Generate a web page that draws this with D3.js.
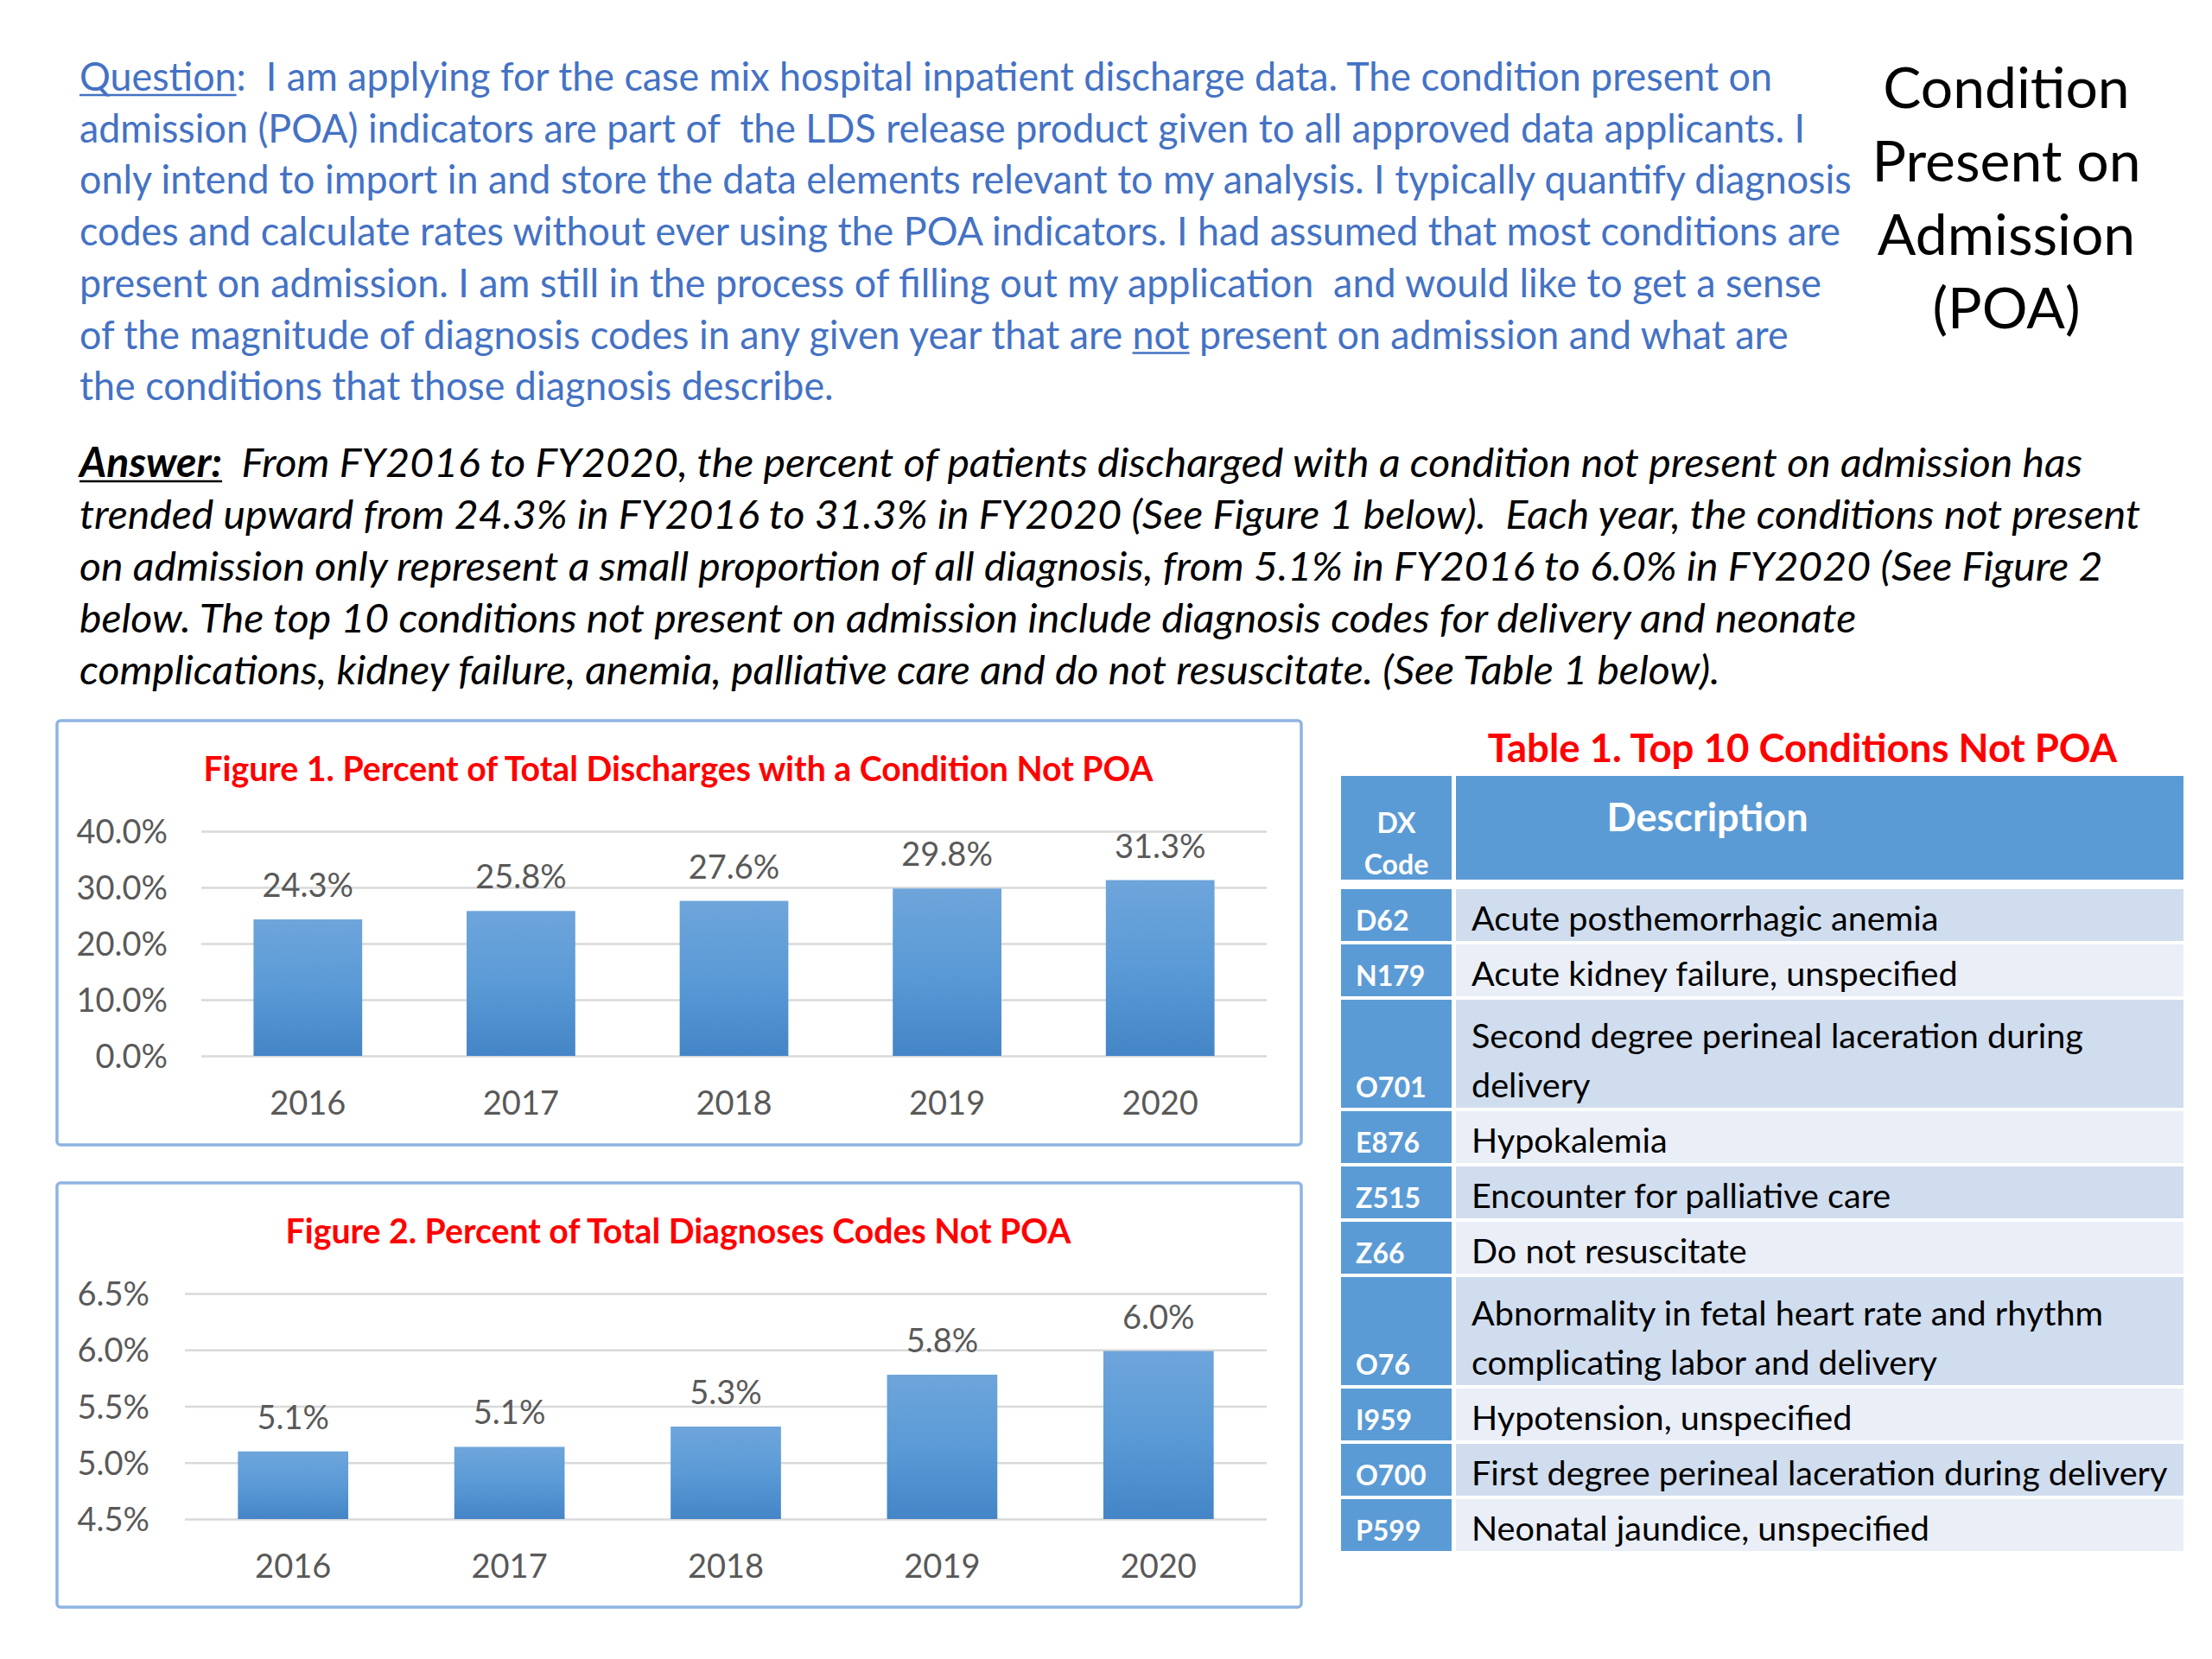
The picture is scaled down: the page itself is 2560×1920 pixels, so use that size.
<!DOCTYPE html>
<html>
<head>
<meta charset="utf-8">
<script src="https://cdn.jsdelivr.net/npm/d3@7"></script>
<style>
  body { margin: 0; background: #fff; }
  svg text { font-family: Lato, "Open Sans", sans-serif; white-space: pre; }
</style>
</head>
<body>
<svg id="slide" width="2560" height="1920"></svg>
<script>
// Slide text (underscores mark underlined words)
const questionLines = [
    "_Question_:  I am applying for the case mix hospital inpatient discharge data. The condition present on",
    "admission (POA) indicators are part of  the LDS release product given to all approved data applicants. I",
    "only intend to import in and store the data elements relevant to my analysis. I typically quantify diagnosis",
    "codes and calculate rates without ever using the POA indicators. I had assumed that most conditions are",
    "present on admission. I am still in the process of filling out my application  and would like to get a sense",
    "of the magnitude of diagnosis codes in any given year that are _not_ present on admission and what are",
    "the conditions that those diagnosis describe."
];
const answerLines = [
    "_Answer:_  From FY2016 to FY2020, the percent of patients discharged with a condition not present on admission has",
    "trended upward from 24.3% in FY2016 to 31.3% in FY2020 (See Figure 1 below).  Each year, the conditions not present",
    "on admission only represent a small proportion of all diagnosis, from 5.1% in FY2016 to 6.0% in FY2020 (See Figure 2",
    "below. The top 10 conditions not present on admission include diagnosis codes for delivery and neonate",
    "complications, kidney failure, anemia, palliative care and do not resuscitate. (See Table 1 below)."
];
const titleLines = ["Condition", "Present on", "Admission", "(POA)"];

// Figure data
const years = ["2016", "2017", "2018", "2019", "2020"];
const dischargeNotPoa = [24.3, 25.8, 27.6, 29.8, 31.3];
const dischargeTicks = [0, 10, 20, 30, 40];
const diagnosisNotPoa = [5.1, 5.14, 5.32, 5.78, 5.99];
const diagnosisTicks = [4.5, 5.0, 5.5, 6.0, 6.5];

// Table data
const dxCodes = ["D62", "N179", "O701", "E876", "Z515", "Z66", "O76", "I959", "O700", "P599"];
const dxDescriptions = [
    "Acute posthemorrhagic anemia",
    "Acute kidney failure, unspecified",
    "Second degree perineal laceration during\ndelivery",
    "Hypokalemia",
    "Encounter for palliative care",
    "Do not resuscitate",
    "Abnormality in fetal heart rate and rhythm\ncomplicating labor and delivery",
    "Hypotension, unspecified",
    "First degree perineal laceration during delivery",
    "Neonatal jaundice, unspecified"
];

const svg = d3.select("#slide");
const pct = d => d3.format(".1f")(d) + "%";
const GRAY = "#595959";

// Lato is not the Calibri of the original, so stretch/squeeze text to its width
function squeeze(t, k) {
    const w = t.node().getComputedTextLength();
    t.attr("textLength", w * k).attr("lengthAdjust", "spacingAndGlyphs");
    return w * k;
}

/**
 * Hard-wrapped paragraph. Plain runs are one <text> each with underlines drawn
 * as lines; bold marked runs (e.g. "Answer:") get their own <text>.
 */
function drawParagraph(lines, opts) {
    const g = svg.append("g");
    const k = opts.squeeze;
    lines.forEach((line, i) => {
        const y = opts.y + i * opts.lineH;
        let cursor = opts.x;
        let run = "";
        let marks = [];

        const newText = (x, str, bold) => g.append("text")
            .attr("x", x)
            .attr("y", y)
            .attr("fill", opts.color)
            .attr("font-size", opts.size)
            .attr("font-style", opts.italic ? "italic" : null)
            .attr("font-weight", bold ? 700 : null)
            .text(str);

        const underline = (x0, w) => g.append("line")
            .attr("x1", x0).attr("x2", x0 + w)
            .attr("y1", y + 5).attr("y2", y + 5)
            .attr("stroke", opts.color)
            .attr("stroke-width", 2.6);

        const flush = () => {
            if (!run) return;
            const t = newText(cursor, run, false);
            const node = t.node();
            marks.forEach(([s, n]) => {
                const off = s > 0 ? node.getSubStringLength(0, s) : 0;
                underline(cursor + off * k, node.getSubStringLength(s, n) * k);
            });
            cursor += squeeze(t, k);
            run = "";
            marks = [];
        };

        line.split("_").forEach((part, j) => {
            if (!part) return;
            const marked = j % 2 === 1;
            if (marked && opts.boldMarked) {
                flush();
                const t = newText(cursor, part, true);
                const w = squeeze(t, k);
                underline(cursor, w);
                cursor += w;
                return;
            }
            if (marked) marks.push([run.length, part.length]);
            run += part;
        });
        flush();
    });
}

drawParagraph(questionLines, { x: 92, y: 105, lineH: 59.7, size: 46, color: "#4472C4", squeeze: 0.974 });
drawParagraph(answerLines, { x: 92, y: 552, lineH: 60, size: 47, color: "#000", italic: true, boldMarked: true, squeeze: 1.025 });

svg.append("g").selectAll("text")
    .data(titleLines)
    .join("text")
    .attr("x", 2322)
    .attr("y", (d, i) => 125 + i * 85)
    .attr("text-anchor", "middle")
    .attr("font-size", 66)
    .attr("fill", "#000")
    .text(d => d);

// bar gradient
const grad = svg.append("defs").append("linearGradient")
    .attr("id", "barGrad").attr("x1", 0).attr("y1", 0).attr("x2", 0).attr("y2", 1);
grad.append("stop").attr("offset", "0%").attr("stop-color", "#6EA5DB");
grad.append("stop").attr("offset", "50%").attr("stop-color", "#5A9AD6");
grad.append("stop").attr("offset", "100%").attr("stop-color", "#4485C7");

/**
 * Framed column chart with a red title.
 */
function drawBarChart(cfg) {
    const g = svg.append("g");
    const [bx0, by0, bx1, by1] = cfg.box;

    g.append("rect")
        .attr("x", bx0).attr("y", by0)
        .attr("width", bx1 - bx0).attr("height", by1 - by0)
        .attr("rx", 4)
        .attr("fill", "#fff")
        .attr("stroke", "#8EB4E3")
        .attr("stroke-width", 3.5);

    const title = g.append("text")
        .attr("x", 785)
        .attr("y", cfg.titleY)
        .attr("text-anchor", "middle")
        .attr("font-size", 40)
        .attr("font-weight", 700)
        .attr("fill", "#FF0000")
        .text(cfg.title);
    squeeze(title, 0.98);

    const x = d3.scaleBand().domain(years).range(cfg.xRange).paddingInner(0.49).paddingOuter(0.245);
    const y = d3.scaleLinear().domain(cfg.domain).range(cfg.yRange);

    const yAxis = g.append("g")
        .attr("transform", `translate(${cfg.xRange[0]},0)`)
        .call(d3.axisLeft(y)
            .tickValues(cfg.ticks)
            .tickSize(-(cfg.xRange[1] - cfg.xRange[0]))
            .tickPadding(cfg.labelGap)
            .tickFormat(pct));
    yAxis.select(".domain").remove();
    yAxis.selectAll(".tick line").attr("stroke", "#D9D9D9").attr("stroke-width", 2.5);
    yAxis.selectAll(".tick text")
        .attr("font-size", 38).attr("fill", GRAY).attr("font-family", null).attr("dy", "0.36em");

    const xAxis = g.append("g")
        .attr("transform", `translate(0,${cfg.yRange[0]})`)
        .call(d3.axisBottom(x).tickSize(0).tickPadding(41));
    xAxis.select(".domain").remove();
    xAxis.selectAll(".tick text").attr("font-size", 38).attr("fill", GRAY).attr("font-family", null);

    g.selectAll(".bar")
        .data(cfg.values)
        .join("rect")
        .attr("class", "bar")
        .attr("x", (d, i) => x(years[i]))
        .attr("y", d => y(d))
        .attr("width", x.bandwidth())
        .attr("height", d => y(cfg.domain[0]) - y(d))
        .attr("fill", "url(#barGrad)");

    g.selectAll(".val")
        .data(cfg.values)
        .join("text")
        .attr("class", "val")
        .attr("x", (d, i) => x(years[i]) + x.bandwidth() / 2)
        .attr("y", d => y(d) - 26)
        .attr("text-anchor", "middle")
        .attr("font-size", 38)
        .attr("fill", GRAY)
        .text(pct);
}

drawBarChart({
    box: [66, 834, 1506, 1325],
    title: "Figure 1. Percent of Total Discharges with a Condition Not POA",
    titleY: 904,
    values: dischargeNotPoa,
    ticks: dischargeTicks,
    domain: [0, 40],
    xRange: [233, 1466],
    yRange: [1222, 962],
    labelGap: 39
});

drawBarChart({
    box: [66, 1369, 1506, 1860],
    title: "Figure 2. Percent of Total Diagnoses Codes Not POA",
    titleY: 1439,
    values: diagnosisNotPoa,
    ticks: diagnosisTicks,
    domain: [4.5, 6.5],
    xRange: [214, 1466],
    yRange: [1758, 1497],
    labelGap: 41
});

/**
 * Table 1: code column + description column, banded rows.
 */
function drawTable() {
    const codeX = 1552, codeW = 128, descX = 1685, descW = 842;
    const BLUE = "#5B9BD5";
    const g = svg.append("g");

    const title = g.append("text")
        .attr("x", 2086).attr("y", 882)
        .attr("text-anchor", "middle")
        .attr("font-size", 46)
        .attr("font-weight", 700)
        .attr("fill", "#FF0000")
        .text("Table 1. Top 10 Conditions Not POA");
    squeeze(title, 0.99);

    // header
    g.append("rect").attr("x", codeX).attr("y", 898).attr("width", codeW).attr("height", 120).attr("fill", BLUE);
    g.append("rect").attr("x", descX).attr("y", 898).attr("width", descW).attr("height", 120).attr("fill", BLUE);
    g.append("text").attr("x", codeX + codeW / 2).attr("y", 964).attr("text-anchor", "middle")
        .attr("font-size", 32).attr("font-weight", 700).attr("fill", "#fff").text("DX");
    g.append("text").attr("x", codeX + codeW / 2).attr("y", 1012).attr("text-anchor", "middle")
        .attr("font-size", 32).attr("font-weight", 700).attr("fill", "#fff").text("Code");
    g.append("text").attr("x", 1976).attr("y", 962).attr("text-anchor", "middle")
        .attr("font-size", 45).attr("font-weight", 700).attr("fill", "#fff").text("Description");

    // rows
    let yPos = 1029;
    const rows = dxCodes.map((code, i) => {
        const lines = dxDescriptions[i].split("\n");
        const h = 60 + 65 * (lines.length - 1);
        const r = { code, lines, y: yPos, h, i };
        yPos += h + 4;
        return r;
    });

    const row = g.selectAll(".row").data(rows).join("g").attr("class", "row");
    row.append("rect").attr("x", codeX).attr("y", d => d.y).attr("width", codeW).attr("height", d => d.h).attr("fill", BLUE);
    row.append("rect").attr("x", descX).attr("y", d => d.y).attr("width", descW).attr("height", d => d.h)
        .attr("fill", d => d.i % 2 === 0 ? "#D0DDEE" : "#E9EEF7");
    row.append("text")
        .attr("x", codeX + 17)
        .attr("y", d => d.y + d.h - 12)
        .attr("font-size", 32).attr("font-weight", 700).attr("fill", "#fff")
        .text(d => d.code);
    row.each(function (d) {
        d3.select(this).selectAll(".desc")
            .data(d.lines)
            .join("text")
            .attr("class", "desc")
            .attr("x", descX + 18)
            .attr("y", (l, k) => d.y + d.h - 12 - (d.lines.length - 1 - k) * 57)
            .attr("font-size", 39).attr("fill", "#000")
            .text(l => l)
            .each(function () { squeeze(d3.select(this), 1.015); });
    });
}

drawTable();
</script>
</body>
</html>
